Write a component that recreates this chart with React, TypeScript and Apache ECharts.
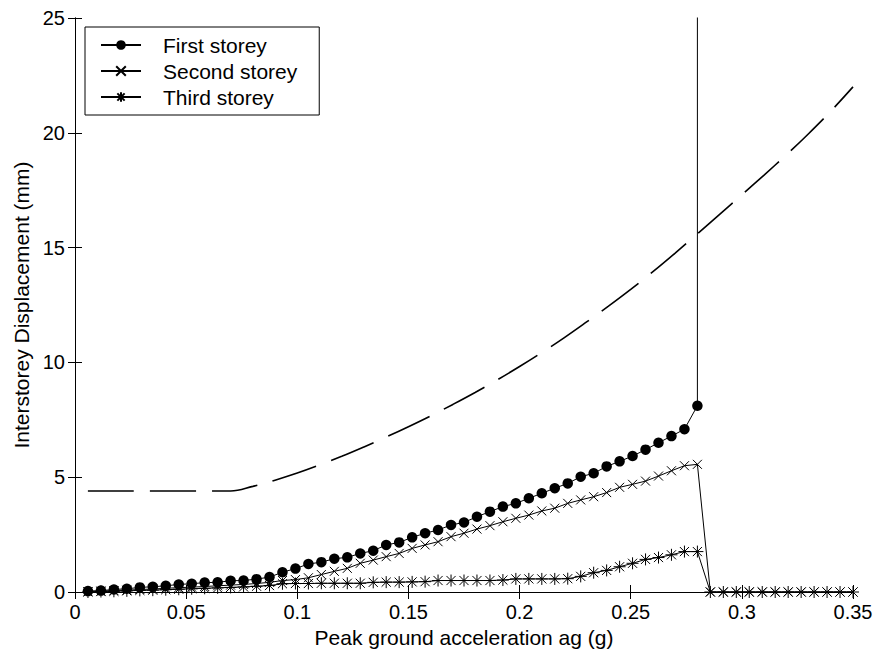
import React, { useEffect, useRef } from "react";
import * as echarts from "echarts";

// Peak ground acceleration values (g) at which the storeys were evaluated
const agValues = [
  0.00583, 0.01167, 0.0175, 0.02333, 0.02917, 0.035, 0.04083, 0.04667, 0.0525, 0.05833,
  0.06417, 0.07, 0.07583, 0.08167, 0.0875, 0.09333, 0.09917, 0.105, 0.11083, 0.11667,
  0.1225, 0.12833, 0.13417, 0.14, 0.14583, 0.15167, 0.1575, 0.16333, 0.16917, 0.175,
  0.18083, 0.18667, 0.1925, 0.19833, 0.20417, 0.21, 0.21583, 0.22167, 0.2275, 0.23333,
  0.23917, 0.245, 0.25083, 0.25667, 0.2625, 0.26833, 0.27417, 0.28, 0.28583, 0.29167,
  0.2975, 0.30333, 0.30917, 0.315, 0.32083, 0.32667, 0.3325, 0.33833, 0.34417, 0.35,
];

// Interstorey displacement (mm)
const firstStorey = [
  0.04, 0.06, 0.11, 0.14, 0.2, 0.23, 0.27, 0.33, 0.36, 0.41,
  0.42, 0.49, 0.5, 0.56, 0.65, 0.86, 1.02, 1.22, 1.3, 1.45,
  1.51, 1.68, 1.8, 2.05, 2.16, 2.38, 2.56, 2.7, 2.92, 3.03,
  3.28, 3.5, 3.72, 3.86, 4.08, 4.3, 4.52, 4.73, 5.02, 5.17,
  5.47, 5.69, 5.92, 6.2, 6.5, 6.79, 7.09, 8.11,
];
// collapse of the first storey: displacement goes off the scale at ag = 0.28
const firstCollapseAg = 0.28;
const firstCollapseValue = 40;

const secondStorey = [
  0.02, 0.04, 0.06, 0.08, 0.11, 0.13, 0.16, 0.19, 0.21, 0.24,
  0.27, 0.3, 0.33, 0.37, 0.42, 0.5, 0.54, 0.62, 0.76, 0.9,
  1.03, 1.25, 1.39, 1.54, 1.68, 1.9, 2.05, 2.19, 2.41, 2.56,
  2.74, 2.89, 3.06, 3.21, 3.35, 3.53, 3.65, 3.86, 4.01, 4.15,
  4.33, 4.56, 4.69, 4.83, 5.05, 5.28, 5.5, 5.56, 0, 0,
  0, 0, 0, 0, 0, 0, 0, 0, 0, 0,
];

const thirdStorey = [
  0.0, 0.02, 0.03, 0.05, 0.07, 0.08, 0.1, 0.12, 0.14, 0.16,
  0.18, 0.2, 0.22, 0.25, 0.28, 0.36, 0.37, 0.37, 0.38, 0.38,
  0.38, 0.38, 0.42, 0.43, 0.43, 0.44, 0.45, 0.5, 0.5, 0.5,
  0.5, 0.5, 0.52, 0.57, 0.57, 0.57, 0.57, 0.58, 0.68, 0.84,
  0.94, 1.1, 1.25, 1.42, 1.5, 1.62, 1.76, 1.76, 0, 0,
  0, 0, 0, 0, 0, 0, 0, 0, 0, 0,
];

// Dashed (unlabelled) curve
const dashAg = [
  0.0058, 0.06, 0.07, 0.08, 0.09, 0.1, 0.11, 0.12, 0.13, 0.14, 0.15,
  0.16, 0.17, 0.18, 0.19, 0.2, 0.21, 0.22, 0.23, 0.24, 0.25,
  0.26, 0.27, 0.28, 0.29, 0.3, 0.31, 0.32, 0.33, 0.34, 0.35,
];
const dashValues = [
  4.4, 4.4, 4.4, 4.6, 4.87, 5.18, 5.53, 5.91, 6.32, 6.75, 7.2,
  7.67, 8.17, 8.69, 9.24, 9.82, 10.43, 11.07, 11.75, 12.45, 13.18,
  13.95, 14.76, 15.6, 16.45, 17.3, 18.16, 19.04, 19.96, 20.94, 22.0,
];

const seriesNames = ["First storey", "Second storey", "Third storey"];
const xAxisTitle = "Peak ground acceleration ag (g)";
const yAxisTitle = "Interstorey Displacement (mm)";

const FONT = "'Liberation Sans', Arial, Helvetica, sans-serif";
const X_PATH = "path://M0,0L10,10M10,0L0,10";
const STAR_PATH = "path://M5,0L5,10M0,5L10,5M1.2,1.2L8.8,8.8M8.8,1.2L1.2,8.8";

export default function App() {
  const ref = useRef<HTMLDivElement>(null);

  useEffect(() => {
    if (!ref.current) return;
    const chart = echarts.init(ref.current, undefined, { renderer: "svg" });

    const firstData: any[] = firstStorey.map((v, i) => [agValues[i], v]);
    firstData.push({ value: [firstCollapseAg, firstCollapseValue], symbol: "none" });
    const secondData = secondStorey.map((v, i) => [agValues[i], v]);
    const thirdData = thirdStorey.map((v, i) => [agValues[i], v]);
    const dashData = dashValues.map((v, i) => [dashAg[i], v]);

    const axisLine = { show: true, lineStyle: { color: "#000", width: 1 } };
    const axisTick = { show: true, inside: true, length: 7, lineStyle: { color: "#000", width: 1 } };
    const labelStyle = { color: "#000", fontSize: 20, fontFamily: FONT };

    chart.setOption({
      animation: false,
      backgroundColor: "#fff",
      textStyle: { fontFamily: FONT },
      grid: { left: 75, right: 27, top: 18, bottom: 68, containLabel: false },
      legend: {
        data: seriesNames,
        orient: "vertical",
        left: 85,
        top: 27,
        padding: [5, 22, 5, 15],
        itemWidth: 40,
        itemHeight: 12,
        itemGap: 0,
        backgroundColor: "#fff",
        borderColor: "#000",
        borderWidth: 1,
        borderRadius: 0,
        textStyle: {
          color: "#000",
          fontSize: 21,
          fontFamily: FONT,
          lineHeight: 26,
          padding: [0, 0, 0, 17],
        },
      },
      xAxis: [
        {
          type: "value",
          position: "bottom",
          min: 0,
          max: 0.35,
          interval: 0.05,
          axisLine,
          axisTick,
          splitLine: { show: false },
          axisLabel: { ...labelStyle, margin: 10 },
          name: xAxisTitle,
          nameLocation: "middle",
          nameGap: 35,
          nameTextStyle: { color: "#000", fontSize: 21, fontFamily: FONT },
        },
        {
          type: "value",
          position: "top",
          min: 0,
          max: 0.35,
          interval: 0.05,
          axisLine,
          axisTick,
          splitLine: { show: false },
          axisLabel: { show: false },
        },
      ],
      yAxis: [
        {
          type: "value",
          position: "left",
          min: 0,
          max: 25,
          interval: 5,
          axisLine,
          axisTick,
          splitLine: { show: false },
          axisLabel: { ...labelStyle, margin: 10 },
          name: yAxisTitle,
          nameLocation: "middle",
          nameGap: 42,
          nameTextStyle: { color: "#000", fontSize: 21, fontFamily: FONT },
        },
        {
          type: "value",
          position: "right",
          min: 0,
          max: 25,
          interval: 5,
          axisLine,
          axisTick,
          splitLine: { show: false },
          axisLabel: { show: false },
        },
      ],
      series: [
        {
          name: "Dashed",
          type: "line",
          data: dashData,
          smooth: 0.4,
          symbol: "none",
          lineStyle: { color: "#000", width: 1.6, type: [46, 16] },
          z: 1,
        },
        {
          name: seriesNames[0],
          type: "line",
          data: firstData,
          symbol: "circle",
          symbolSize: 10.5,
          showAllSymbol: true,
          clip: true,
          lineStyle: { color: "#000", width: 1 },
          itemStyle: { color: "#000", borderWidth: 0 },
          z: 4,
        },
        {
          name: seriesNames[1],
          type: "line",
          data: secondData,
          symbol: X_PATH,
          symbolSize: 9,
          showAllSymbol: true,
          lineStyle: { color: "#000", width: 1 },
          itemStyle: { color: "#000", borderColor: "#000", borderWidth: 1 },
          z: 3,
        },
        {
          name: seriesNames[2],
          type: "line",
          data: thirdData,
          symbol: STAR_PATH,
          symbolSize: 12,
          showAllSymbol: true,
          lineStyle: { color: "#000", width: 1 },
          itemStyle: { color: "#000", borderColor: "#000", borderWidth: 1 },
          z: 2,
        },
      ],
    });

    return () => chart.dispose();
  }, []);

  return (
    <div
      ref={ref}
      style={{ position: "fixed", left: 0, top: 0, width: 880, height: 660, background: "#fff" }}
    />
  );
}
